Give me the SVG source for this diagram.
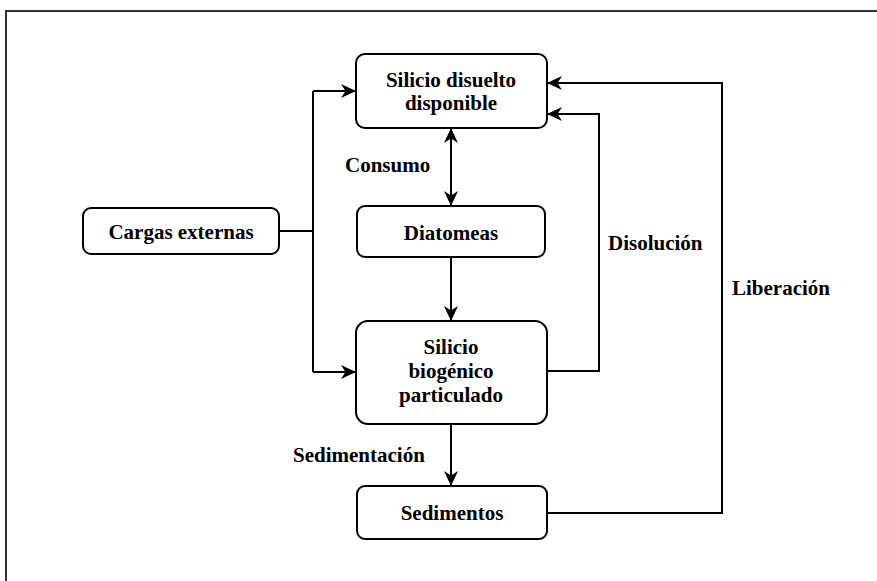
<svg xmlns="http://www.w3.org/2000/svg" width="877" height="581" viewBox="0 0 877 581">
  <defs>
    <marker id="arrow" viewBox="0 0 15 14" refX="14" refY="7" markerWidth="15" markerHeight="14" markerUnits="userSpaceOnUse" orient="auto-start-reverse">
      <path d="M0,0 L15,7 L0,14 L4.5,7 Z" fill="#000"/>
    </marker>
  </defs>
  <style>
    .frame { fill: none; stroke: #000; stroke-width: 1.6; }
    .box { fill: #fff; stroke: #000; stroke-width: 2; }
    .edge { fill: none; stroke: #000; stroke-width: 2; }
    .lbl { font-family: "Liberation Serif", "Times New Roman", serif; font-weight: bold; font-size: 21px; fill: #000; }
    .mid { text-anchor: middle; }
  </style>
  <rect width="877" height="581" fill="#fff"/>
  <rect class="frame" x="6" y="11" width="920" height="620"/>

  <g id="connectors">
    <!-- external loads split to dissolved and particulate pools -->
    <polyline class="edge" points="279,231 313,231"/>
    <polyline class="edge" points="313,91 313,372"/>
    <line class="edge" x1="313" y1="91" x2="355" y2="91" marker-end="url(#arrow)"/>
    <line class="edge" x1="313" y1="372" x2="355" y2="372" marker-end="url(#arrow)"/>
    <!-- uptake (bidirectional) -->
    <line class="edge" x1="451" y1="129" x2="451" y2="205" marker-start="url(#arrow)" marker-end="url(#arrow)"/>
    <!-- diatoms to biogenic silica -->
    <line class="edge" x1="451" y1="257" x2="451" y2="320" marker-end="url(#arrow)"/>
    <!-- sedimentation -->
    <line class="edge" x1="451" y1="424" x2="451" y2="485" marker-end="url(#arrow)"/>
    <!-- dissolution -->
    <polyline class="edge" points="547,371 599,371 599,114 548,114" marker-end="url(#arrow)"/>
    <!-- release from sediments -->
    <polyline class="edge" points="547,513 722,513 722,83 548,83" marker-end="url(#arrow)"/>
    <text class="lbl" x="345" y="172">Consumo</text>
    <text class="lbl" x="608" y="250">Disolución</text>
    <text class="lbl" x="732" y="295">Liberación</text>
    <text class="lbl" x="293" y="462">Sedimentación</text>
  </g>

  <g id="silicio-disuelto">
    <rect class="box" x="356" y="54" width="191" height="74" rx="9"/>
    <text class="lbl mid" x="451" y="87">Silicio disuelto</text>
    <text class="lbl mid" x="451" y="110">disponible</text>
  </g>

  <g id="cargas-externas">
    <rect class="box" x="83" y="208" width="196" height="46" rx="8"/>
    <text class="lbl mid" x="181" y="239">Cargas externas</text>
  </g>

  <g id="diatomeas">
    <rect class="box" x="357" y="206" width="188" height="51" rx="8"/>
    <text class="lbl mid" x="451" y="240">Diatomeas</text>
  </g>

  <g id="silicio-biogenico">
    <rect class="box" x="356" y="321" width="191" height="103" rx="12"/>
    <text class="lbl mid" x="451" y="354">Silicio</text>
    <text class="lbl mid" x="451" y="378">biogénico</text>
    <text class="lbl mid" x="451" y="402">particulado</text>
  </g>

  <g id="sedimentos">
    <rect class="box" x="357" y="486" width="190" height="53" rx="8"/>
    <text class="lbl mid" x="452" y="520">Sedimentos</text>
  </g>
</svg>
